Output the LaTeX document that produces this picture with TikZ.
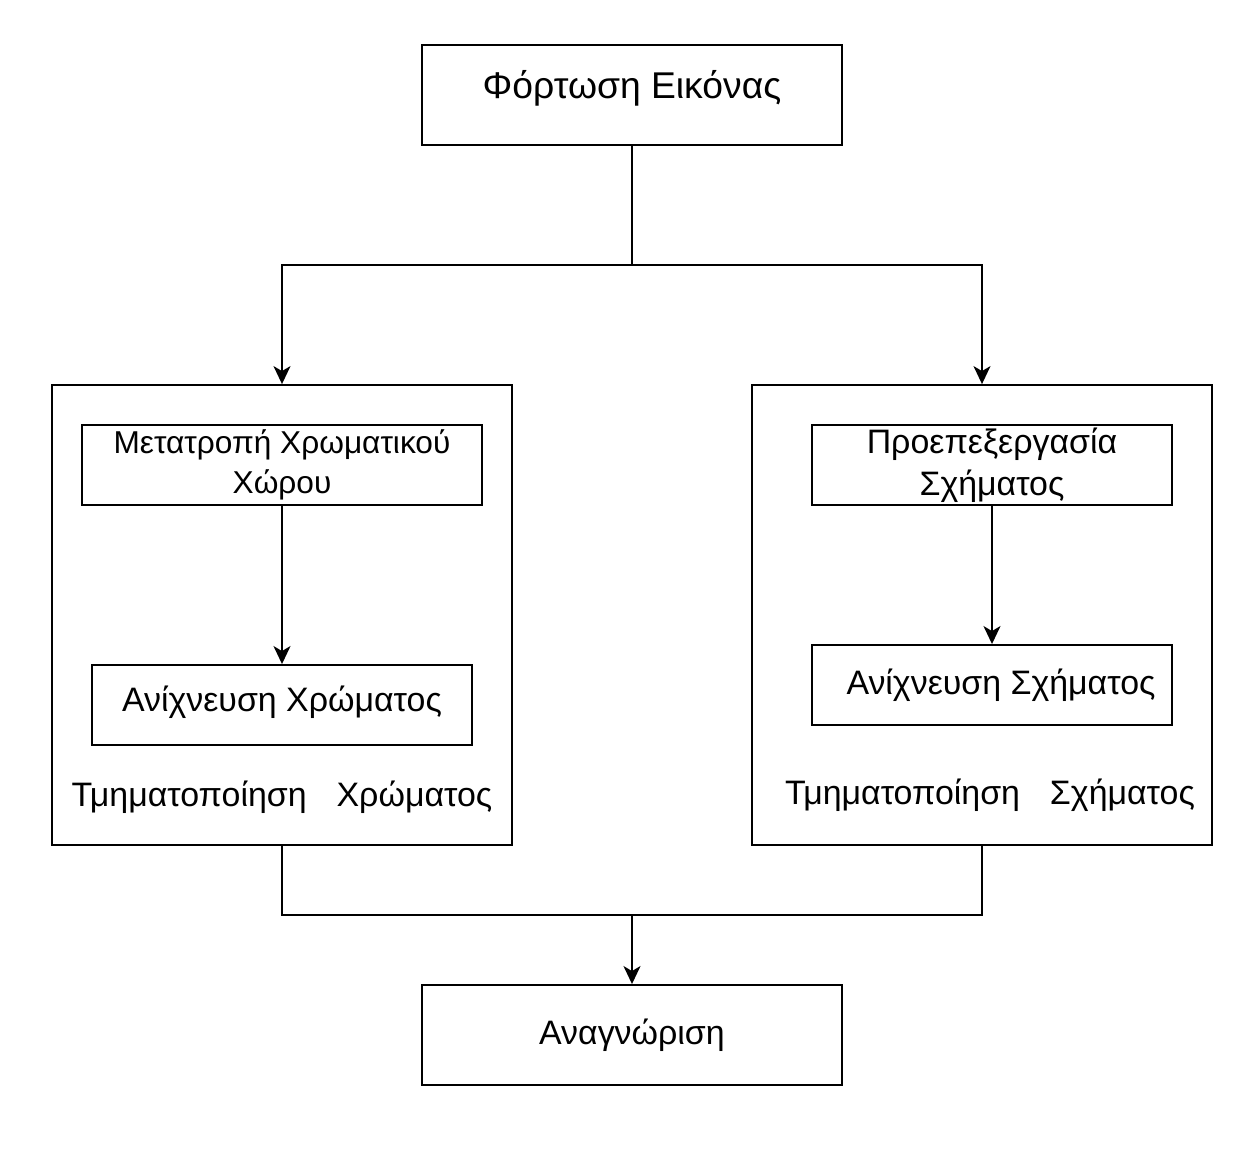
\documentclass[tikz,border=0pt]{standalone}
\usepackage{fontspec}
\setmainfont{Liberation Sans}
\usetikzlibrary{arrows.meta,positioning}

\begin{document}
\begin{tikzpicture}[
                        x=0.02cm, y=-0.02cm,
                        >={Stealth[length=0.36cm,width=0.34cm,inset=0.1cm]},
                        line width=1.1pt,
                        font=\fontsize{19.3}{23.8}\selectfont,
                        block/.style={rectangle, draw, align=center, inner sep=0pt},
                        stage/.style={rectangle, draw, minimum width=9.2cm, minimum height=9.2cm},
                        caption/.style={inner sep=0pt}
                    ]
                    \useasboundingbox (0,0) rectangle (1249,1153);
                    % Blocks
                    \node [block, minimum width=8.4cm, minimum height=2cm, font=\fontsize{21.2}{25}\selectfont] (load) at (632,95) {\raisebox{0.44cm}{Φόρτωση Εικόνας}};
                    \node [stage] (colstage) at (282,615) {};
                    \node [stage] (shapestage) at (982,615) {};
                    \node [block, minimum width=8cm, minimum height=1.6cm, font=\fontsize{18}{22.8}\selectfont] (colconv) at (282,465) {Μετατροπή Χρωματικού\\Χώρου};
                    \node [block, minimum width=7.6cm, minimum height=1.6cm] (coldet) at (282,705) {\raisebox{0.24cm}{Ανίχνευση Χρώματος}};
                    \node [caption] (colseg) at (282,797) {Τμηματοποίηση\hspace{0.6cm}Χρώματος};
                    \node [block, minimum width=7.2cm, minimum height=1.6cm] (shapepre) at (992,465) {Προεπεξεργασία\\Σχήματος};
                    \node [block, minimum width=7.2cm, minimum height=1.6cm] (shapedet) at (992,685) {\hspace{0.36cm}Ανίχνευση Σχήματος};
                    \node [caption] (shapeseg) at (990,795) {Τμηματοποίηση\hspace{0.6cm}Σχήματος};
                    \node [block, minimum width=8.4cm, minimum height=2cm] (recog) at (632,1035) {Αναγνώριση};
                    \coordinate (split) at (632,265);
                    \coordinate (merge) at (632,915);

                    % Connections
                    \draw (load.south) -- (split);
                    \draw [->] (split) -| (colstage.north);
                    \draw [->] (split) -| (shapestage.north);
                    \draw [->] (colconv.south) -- (coldet.north);
                    \draw [->] (shapepre.south) -- (shapedet.north);
                    \draw (colstage.south) |- (merge) -| (shapestage.south);
                    \draw [->] (merge) -- (recog.north);
                \end{tikzpicture}
\end{document}
